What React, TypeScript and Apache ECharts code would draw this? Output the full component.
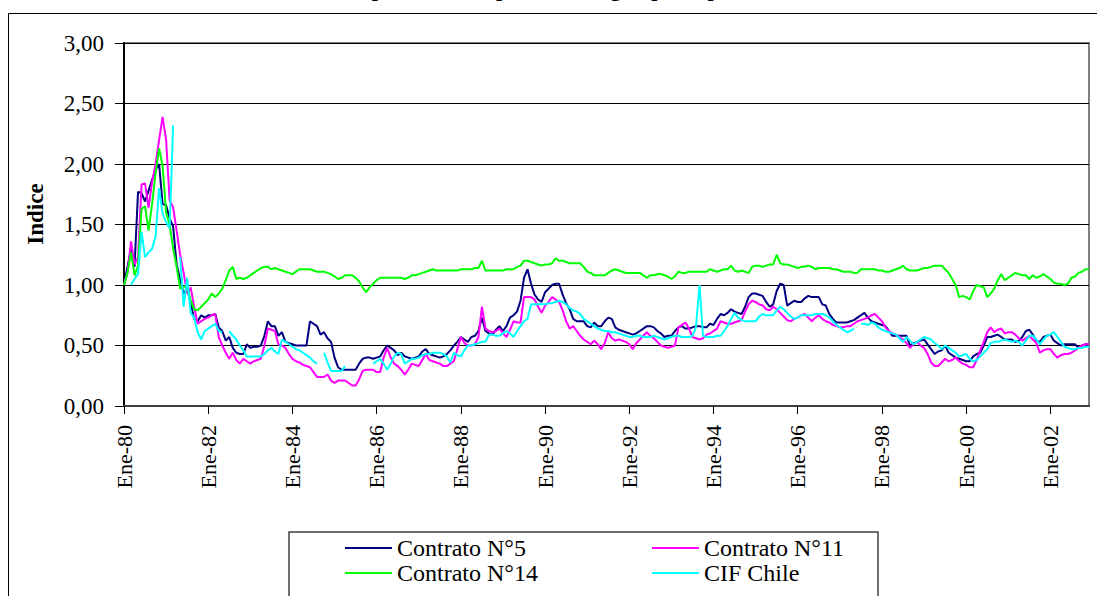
import React, { useEffect, useRef } from "react";
import * as echarts from "echarts";

const monthNames = ["Ene", "Feb", "Mar", "Abr", "May", "Jun", "Jul", "Ago", "Sep", "Oct", "Nov", "Dic"];
const years = [80, 81, 82, 83, 84, 85, 86, 87, 88, 89, 90, 91, 92, 93, 94, 95, 96, 97, 98, 99, 0, 1, 2];
const categories: string[] = [];
years.forEach((y) => monthNames.forEach((m) => categories.push(`${m}-${String(y).padStart(2, "0")}`)));

const seriesNames = ["Contrato N°5", "Contrato N°11", "Contrato N°14", "CIF Chile"];
const seriesColors = ["#000080", "#FF00FF", "#00FF00", "#00FFFF"];

const contrato5 = [
  1.00,1.15,1.30,1.15,1.77,1.76,1.69,1.78,1.87,1.95,
  2.00,1.67,1.66,1.55,1.48,1.17,1.05,0.93,0.97,0.85,
  0.72,0.70,0.75,0.73,0.75,0.75,0.76,0.65,0.62,0.54,
  0.57,0.48,0.44,0.43,0.43,0.51,0.48,0.49,0.49,0.50,
  0.58,0.70,0.66,0.66,0.58,0.61,0.53,0.52,0.51,0.50,
  0.50,0.50,0.50,0.70,0.68,0.66,0.59,0.61,0.56,0.53,
  0.40,0.32,0.30,0.30,0.30,0.30,0.30,0.35,0.39,0.40,
  0.40,0.39,0.40,0.41,0.46,0.50,0.48,0.46,0.42,0.44,
  0.41,0.40,0.39,0.40,0.41,0.45,0.47,0.43,0.42,0.41,
  0.40,0.41,0.43,0.46,0.50,0.53,0.57,0.55,0.53,0.57,
  0.58,0.62,0.73,0.62,0.60,0.59,0.63,0.66,0.62,0.66,
  0.73,0.75,0.78,0.87,1.06,1.13,1.01,0.92,0.88,0.86,
  0.94,0.97,1.00,1.01,1.01,0.92,0.85,0.80,0.72,0.70,
  0.70,0.70,0.66,0.65,0.69,0.66,0.66,0.70,0.73,0.72,
  0.65,0.63,0.62,0.61,0.60,0.59,0.60,0.62,0.64,0.66,
  0.66,0.65,0.62,0.60,0.57,0.58,0.58,0.62,0.65,0.66,
  0.64,0.64,0.65,0.66,0.66,0.65,0.65,0.68,0.67,0.72,
  0.76,0.75,0.77,0.80,0.78,0.77,0.76,0.82,0.90,0.93,
  0.93,0.92,0.91,0.86,0.82,0.84,0.95,1.01,1.00,0.83,
  0.85,0.87,0.86,0.86,0.89,0.91,0.90,0.90,0.90,0.84,
  0.83,0.76,0.72,0.69,0.69,0.69,0.69,0.70,0.71,0.73,
  0.75,0.77,0.73,0.70,0.69,0.68,0.67,0.66,0.62,0.58,
  0.58,0.58,0.58,0.58,0.50,0.52,0.53,0.54,0.55,0.51,
  0.47,0.43,0.45,0.46,0.50,0.44,0.42,0.40,0.39,0.38,
  0.37,0.37,0.41,0.43,0.44,0.50,0.57,0.57,0.58,0.59,
  0.57,0.55,0.55,0.55,0.53,0.54,0.57,0.62,0.63,0.59,
  0.54,0.53,0.57,0.58,0.59,0.54,0.52,0.50,0.51,0.51,
  0.51,0.51,0.48,0.50,0.51,0.51,
];

const contrato11 = [
  1.00,1.10,1.36,1.17,1.23,1.83,1.84,1.64,1.85,2.00,
  2.20,2.39,2.20,1.70,1.64,1.45,1.25,1.10,0.93,0.98,
  0.82,0.68,0.70,0.72,0.73,0.75,0.76,0.57,0.50,0.44,
  0.39,0.44,0.38,0.35,0.39,0.37,0.35,0.37,0.38,0.39,
  0.50,0.64,0.63,0.62,0.51,0.50,0.48,0.43,0.39,0.37,
  0.36,0.34,0.33,0.32,0.28,0.24,0.24,0.24,0.26,0.21,
  0.19,0.21,0.21,0.21,0.19,0.17,0.17,0.22,0.29,0.30,
  0.30,0.30,0.28,0.28,0.40,0.48,0.40,0.35,0.33,0.30,
  0.26,0.30,0.35,0.34,0.33,0.38,0.43,0.38,0.37,0.36,
  0.35,0.33,0.33,0.35,0.37,0.47,0.57,0.52,0.50,0.50,
  0.51,0.57,0.82,0.64,0.62,0.61,0.62,0.64,0.60,0.57,
  0.63,0.70,0.69,0.69,0.90,0.90,0.90,0.88,0.82,0.77,
  0.83,0.86,0.90,0.88,0.86,0.79,0.70,0.64,0.66,0.62,
  0.58,0.55,0.53,0.51,0.54,0.51,0.47,0.52,0.61,0.56,
  0.54,0.55,0.54,0.53,0.51,0.47,0.52,0.55,0.58,0.61,
  0.58,0.56,0.53,0.50,0.49,0.48,0.49,0.50,0.65,0.67,
  0.69,0.64,0.57,0.56,0.55,0.56,0.59,0.60,0.62,0.64,
  0.70,0.69,0.68,0.68,0.69,0.70,0.71,0.78,0.84,0.87,
  0.86,0.84,0.83,0.80,0.79,0.82,0.80,0.77,0.74,0.71,
  0.70,0.72,0.73,0.75,0.76,0.73,0.70,0.73,0.75,0.72,
  0.70,0.69,0.67,0.66,0.65,0.65,0.66,0.66,0.68,0.70,
  0.71,0.72,0.73,0.75,0.76,0.73,0.70,0.65,0.62,0.60,
  0.59,0.57,0.55,0.52,0.48,0.51,0.53,0.50,0.48,0.43,
  0.36,0.33,0.33,0.36,0.39,0.37,0.38,0.40,0.37,0.35,
  0.34,0.32,0.32,0.38,0.46,0.53,0.61,0.65,0.61,0.63,
  0.64,0.60,0.61,0.61,0.59,0.56,0.54,0.56,0.58,0.55,
  0.52,0.44,0.46,0.47,0.47,0.43,0.40,0.42,0.43,0.43,
  0.44,0.46,0.48,0.50,0.51,0.51,
];

const contrato14 = [
  1.00,1.10,1.27,1.08,1.16,1.63,1.65,1.45,1.67,1.92,
  2.13,1.98,1.60,1.50,1.30,1.15,0.97,0.98,1.00,0.87,
  0.80,0.79,0.82,0.85,0.88,0.93,0.90,0.93,0.97,1.04,
  1.12,1.15,1.05,1.06,1.05,1.06,1.08,1.10,1.12,1.14,
  1.15,1.15,1.13,1.14,1.13,1.12,1.11,1.10,1.09,1.11,
  1.13,1.13,1.13,1.13,1.12,1.11,1.11,1.11,1.10,1.09,
  1.07,1.05,1.06,1.08,1.08,1.08,1.06,1.03,0.98,0.94,
  0.98,1.01,1.04,1.06,1.06,1.06,1.06,1.06,1.06,1.06,
  1.05,1.06,1.08,1.08,1.09,1.10,1.11,1.12,1.13,1.12,
  1.12,1.12,1.12,1.12,1.12,1.12,1.13,1.13,1.13,1.13,
  1.14,1.14,1.20,1.12,1.12,1.12,1.12,1.12,1.12,1.13,
  1.13,1.13,1.15,1.16,1.20,1.20,1.19,1.18,1.17,1.16,
  1.17,1.17,1.18,1.22,1.20,1.20,1.19,1.18,1.18,1.18,
  1.18,1.15,1.11,1.10,1.08,1.08,1.08,1.08,1.10,1.12,
  1.13,1.12,1.11,1.10,1.10,1.10,1.10,1.10,1.08,1.06,
  1.08,1.08,1.09,1.09,1.08,1.07,1.05,1.07,1.11,1.10,
  1.10,1.11,1.11,1.11,1.11,1.11,1.11,1.13,1.12,1.11,
  1.12,1.13,1.13,1.16,1.12,1.11,1.12,1.11,1.10,1.15,
  1.16,1.16,1.15,1.16,1.17,1.17,1.25,1.18,1.17,1.17,
  1.16,1.15,1.14,1.15,1.15,1.16,1.15,1.13,1.14,1.14,
  1.14,1.14,1.13,1.13,1.12,1.11,1.11,1.11,1.10,1.10,
  1.13,1.13,1.13,1.13,1.13,1.12,1.12,1.11,1.11,1.12,
  1.13,1.14,1.16,1.13,1.12,1.12,1.12,1.13,1.14,1.14,
  1.15,1.16,1.16,1.16,1.13,1.10,1.05,1.00,0.90,0.91,
  0.90,0.88,0.95,1.00,0.99,0.98,0.90,0.93,0.97,1.04,
  1.09,1.04,1.06,1.08,1.10,1.09,1.08,1.08,1.05,1.08,
  1.06,1.07,1.09,1.07,1.05,1.02,1.01,1.01,1.00,1.01,
  1.06,1.07,1.10,1.11,1.13,1.13,
];

const cifChile = [
  null,null,1.00,1.05,1.09,1.44,1.23,1.27,1.30,1.40,
  1.80,1.59,1.52,1.47,2.32,null,1.23,0.82,1.06,0.77,
  0.73,0.61,0.55,0.62,0.64,0.66,0.68,0.62,0.61,null,
  0.62,0.58,0.55,0.50,0.46,0.41,0.41,0.41,0.41,0.41,
  0.43,0.46,0.48,0.45,0.43,0.55,0.53,0.51,0.49,0.47,
  0.46,0.44,0.42,0.40,0.37,0.35,null,0.44,0.36,0.29,
  0.29,0.29,0.29,0.33,null,null,null,null,null,null,
  null,0.35,0.37,0.39,0.35,0.30,0.35,0.41,0.44,0.43,
  0.35,0.37,0.39,0.39,0.40,0.42,0.43,0.43,0.44,0.44,
  0.44,0.43,0.41,0.36,0.44,0.42,0.41,0.46,0.50,0.50,
  0.51,0.52,0.53,0.53,0.59,0.59,0.58,0.58,0.60,0.62,
  0.60,0.57,0.62,0.66,0.70,0.72,0.84,0.84,0.84,0.84,
  0.84,0.85,0.85,0.86,0.87,0.86,0.84,0.81,0.79,0.78,
  0.76,0.72,0.70,0.68,0.66,0.64,0.63,0.62,0.62,0.61,
  0.61,0.60,0.59,0.58,0.57,0.57,0.58,0.58,0.57,0.57,
  0.57,0.58,0.57,0.56,0.55,0.56,0.57,0.58,0.58,0.57,
  0.57,0.57,0.58,0.65,1.00,0.58,0.57,0.57,0.57,0.58,
  0.58,0.62,0.66,0.72,0.77,0.73,0.71,0.70,0.70,0.70,
  0.70,0.74,0.76,0.75,0.75,0.75,0.79,0.82,0.80,0.77,
  0.74,0.72,0.73,0.75,0.75,0.75,0.75,0.76,0.76,0.76,
  0.75,0.73,0.70,0.67,0.65,0.63,0.61,0.62,0.64,null,
  0.68,0.68,0.67,0.69,0.68,0.65,0.63,0.62,0.61,0.60,
  0.59,0.56,0.53,0.57,0.54,0.51,0.53,0.55,0.57,0.56,
  0.55,0.52,0.50,0.47,0.50,0.48,0.46,0.44,0.41,0.42,
  0.43,0.39,0.37,0.38,0.41,0.44,0.47,0.52,0.53,0.53,
  0.54,0.55,0.54,0.53,0.54,0.53,0.50,0.54,0.58,0.58,
  0.55,0.51,0.55,0.58,0.59,0.61,0.57,0.53,0.49,0.48,
  0.47,0.47,0.48,0.48,0.49,0.49,
];

const seriesValues = [contrato5, contrato11, contrato14, cifChile];
const yTicks = { min: 0, max: 3, interval: 0.5 };
const titleText = "Índices de precios de importación según principales contratos";
const yName = "Indice";

const FONT = "Liberation Serif";

export default function App() {
  const ref = useRef<HTMLDivElement>(null);
  useEffect(() => {
    if (!ref.current) return;
    const chart = echarts.init(ref.current, undefined, { renderer: "svg" });
    const legendBase = {
      orient: "vertical",
      top: 536,
      itemWidth: 47,
      itemHeight: 2,
      itemGap: 1,
      padding: 0,
      icon: "rect",
      textStyle: { fontFamily: FONT, fontSize: 24, color: "#000", lineHeight: 24 },
    };
    chart.setOption({
      animation: false,
      backgroundColor: "#ffffff",
      grid: {
        left: 124,
        right: 8,
        top: 43,
        bottom: 190,
        show: true,
        borderColor: "#808080",
        borderWidth: 2,
        backgroundColor: "transparent",
      },
      legend: [
        { ...legendBase, data: [seriesNames[0], seriesNames[2]], left: 345 },
        { ...legendBase, data: [seriesNames[1], seriesNames[3]], left: 652 },
      ],
      xAxis: {
        type: "category",
        data: categories,
        boundaryGap: false,
        axisLine: { lineStyle: { color: "#404040", width: 2 } },
        axisTick: { interval: 23, length: 8, lineStyle: { color: "#000", width: 1 } },
        axisLabel: {
          interval: 23,
          rotate: 90,
          margin: 19,
          fontFamily: FONT,
          fontSize: 22,
          color: "#000",
        },
        splitLine: { show: false },
      },
      yAxis: {
        type: "value",
        min: yTicks.min,
        max: yTicks.max,
        interval: yTicks.interval,
        axisLine: { show: true, lineStyle: { color: "#000", width: 2 } },
        axisTick: { show: true, length: 9, lineStyle: { color: "#000", width: 1 } },
        axisLabel: {
          margin: 20,
          fontFamily: FONT,
          fontSize: 23,
          color: "#000",
          formatter: (v: number) => v.toFixed(2).replace(".", ","),
        },
        splitLine: { show: true, lineStyle: { color: "#000", width: 1 } },
      },
      series: seriesNames.map((name, i) => ({
        name,
        type: "line",
        data: seriesValues[i],
        symbol: "none",
        showSymbol: false,
        connectNulls: false,
        lineStyle: { color: seriesColors[i], width: 2 },
        itemStyle: { color: seriesColors[i] },
        z: 3 + i,
      })),
      graphic: [
        {
          type: "rect",
          silent: true,
          shape: { x: 8.5, y: 13.5, width: 1100, height: 600 },
          style: { fill: "none", stroke: "#000", lineWidth: 1 },
        },
        {
          type: "rect",
          silent: true,
          shape: { x: 289, y: 532, width: 589, height: 70 },
          style: { fill: "none", stroke: "#404040", lineWidth: 1.5 },
        },
        {
          type: "text",
          silent: true,
          x: 35,
          y: 214,
          rotation: Math.PI / 2,
          style: {
            text: yName,
            fontFamily: FONT,
            fontWeight: "bold",
            fontSize: 23,
            fill: "#000",
            align: "center",
            verticalAlign: "middle",
          },
        },
        {
          type: "text",
          silent: true,
          x: 560,
          y: -1,
          style: {
            text: titleText,
            fontFamily: FONT,
            fontWeight: "bold",
            fontSize: 22,
            fill: "#000",
            align: "center",
            verticalAlign: "bottom",
          },
        },
      ],
    });
    return () => chart.dispose();
  }, []);
  return (
    <div
      ref={ref}
      style={{ position: "fixed", left: 0, top: 0, width: 1097, height: 596 }}
    />
  );
}
